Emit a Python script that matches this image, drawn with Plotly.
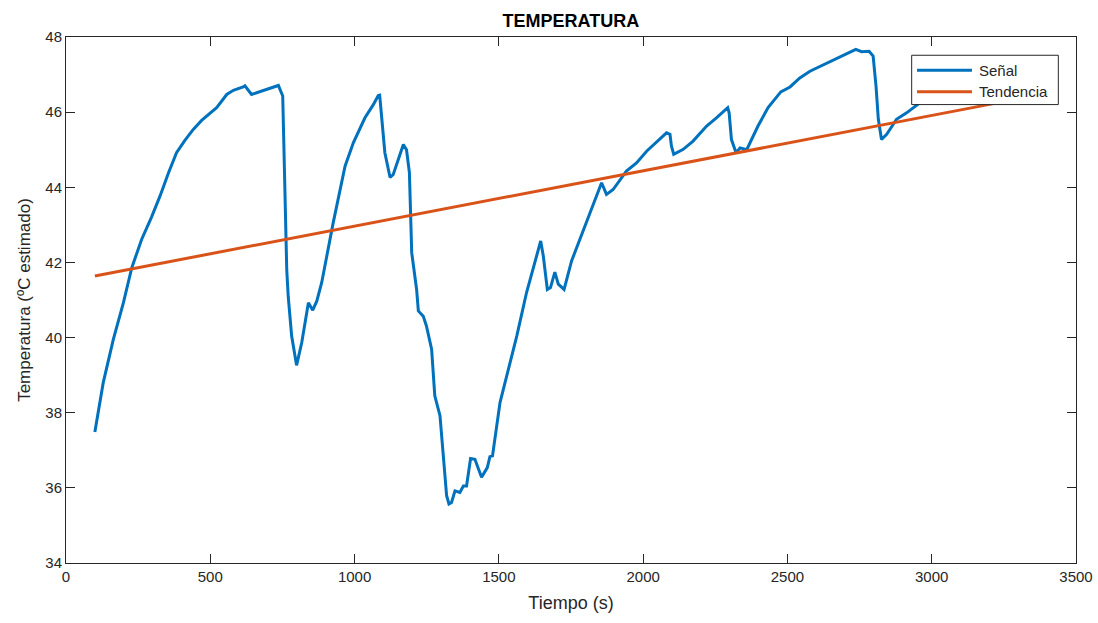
import plotly.graph_objects as go

# Signal samples: time (s) and estimated temperature (ºC)
tiempo = [100, 129, 164, 199, 228, 262, 296, 326, 355, 383, 412, 441, 470, 499, 522, 557, 580, 614, 620,
          643, 672, 707, 736, 751, 755, 765, 770, 782, 799, 817, 840, 855, 869, 886,
          926, 967, 996, 1036, 1065, 1082, 1087, 1105, 1123, 1134, 1169, 1180, 1190,
          1198, 1215, 1221, 1238, 1249, 1267, 1278, 1296, 1307, 1319, 1327, 1336, 1348,
          1365, 1377, 1388, 1402, 1417, 1440, 1460, 1469, 1478, 1504, 1527, 1562, 1596,
          1645, 1654, 1668, 1679, 1694, 1706, 1726, 1752, 1792, 1827, 1856, 1873, 1896,
          1942, 1977, 2012, 2046, 2081, 2093, 2098, 2106, 2139, 2173, 2220, 2254, 2293,
          2298, 2306, 2322, 2336, 2359, 2398, 2433, 2477, 2509, 2543, 2578, 2613, 2647,
          2682, 2717, 2737, 2757, 2783, 2797, 2807, 2815, 2826, 2844, 2878, 2913, 2959,
          2990, 3060, 3130, 3200, 3250]
senal = [37.49, 38.80, 39.95, 40.93, 41.86, 42.61, 43.20, 43.77, 44.38, 44.92, 45.25, 45.54, 45.78, 45.98, 46.12, 46.47,
         46.58, 46.67, 46.70, 46.47, 46.54, 46.63, 46.71, 46.43, 44.93, 41.80, 41.10, 40.04,
         39.26, 39.87, 40.93, 40.73, 40.97, 41.46, 43.06, 44.56, 45.19, 45.85, 46.20, 46.44,
         46.45, 44.92, 44.26, 44.34, 45.14, 45.00, 44.39, 42.26, 41.28, 40.71, 40.57, 40.31,
         39.69, 38.45, 37.92, 36.85, 35.79, 35.57, 35.61, 35.92, 35.88, 36.05, 36.05, 36.78,
         36.76, 36.28, 36.54, 36.83, 36.85, 38.27, 38.98, 40.04, 41.20, 42.57, 42.17, 41.28,
         41.33, 41.74, 41.42, 41.28, 42.04, 42.84, 43.50, 44.12, 43.81, 43.94, 44.43, 44.65,
         44.96, 45.19, 45.45, 45.41, 45.10, 44.88, 45.01, 45.23, 45.63, 45.85, 46.12, 45.98,
         45.27, 44.92, 45.05, 45.00, 45.63, 46.12, 46.54, 46.67, 46.91, 47.09, 47.22, 47.36,
         47.49, 47.60, 47.67, 47.61, 47.62, 47.49, 46.69, 45.81, 45.27, 45.41, 45.81, 45.98,
         46.25, 46.35, 46.55, 46.75, 46.90, 47.00]

# Linear trend endpoints
tendencia_t = [100, 3250]
tendencia_T = [41.64, 46.28]

x_ticks = [0, 500, 1000, 1500, 2000, 2500, 3000, 3500]
y_ticks = [34, 36, 38, 40, 42, 44, 46, 48]

azul = "#0072BD"
naranja = "#D95319"
eje = "#262626"
fuente = "Liberation Sans, Arial, sans-serif"

fig = go.Figure()
fig.add_trace(go.Scatter(x=tiempo, y=senal, mode="lines", name="Señal",
                         line=dict(color=azul, width=3), showlegend=False))
fig.add_trace(go.Scatter(x=tendencia_t, y=tendencia_T, mode="lines", name="Tendencia",
                         line=dict(color=naranja, width=3), showlegend=False))

axis_common = dict(showgrid=False, zeroline=False, showline=True, linecolor=eje,
                   linewidth=1, mirror="ticks", ticks="inside", ticklen=9,
                   tickcolor=eje, tickwidth=1, automargin=False,
                   tickfont=dict(family=fuente, size=15, color=eje))

fig.update_xaxes(range=[0, 3500], tickvals=x_ticks, **axis_common,
                 title=dict(text="Tiempo (s)", font=dict(family=fuente, size=18, color=eje),
                            standoff=12))
fig.update_yaxes(range=[34, 48], tickvals=y_ticks, **axis_common,
                 title=dict(text="Temperatura (ºC estimado)",
                            font=dict(family=fuente, size=17, color=eje), standoff=10))

# Legend drawn as a boxed key in the upper right corner
lx0, lx1, ly0, ly1 = 0.8373, 0.9825, 0.8715, 0.9653
fig.add_shape(type="rect", xref="paper", yref="paper", x0=lx0, x1=lx1, y0=ly0, y1=ly1,
              fillcolor="white", line=dict(color=eje, width=1), layer="above")
for yy, col, txt in [(0.9368, azul, "Señal"), (0.8957, naranja, "Tendencia")]:
    fig.add_shape(type="line", xref="paper", yref="paper", x0=0.8426, x1=0.8970,
                  y0=yy, y1=yy, line=dict(color=col, width=3), layer="above")
    fig.add_annotation(x=0.9015, y=yy, xref="paper", yref="paper", text=txt,
                       showarrow=False, xanchor="left", yanchor="middle",
                       font=dict(family=fuente, size=15, color=eje))

fig.update_layout(
    width=1098, height=623,
    margin=dict(l=66, r=22, t=37, b=60),
    paper_bgcolor="white", plot_bgcolor="white",
    title=dict(text="<b>TEMPERATURA</b>", x=0.52, xanchor="center", y=0.967, yanchor="middle",
               font=dict(family=fuente, size=18, color="black")),
)

fig.write_html("out.html")
